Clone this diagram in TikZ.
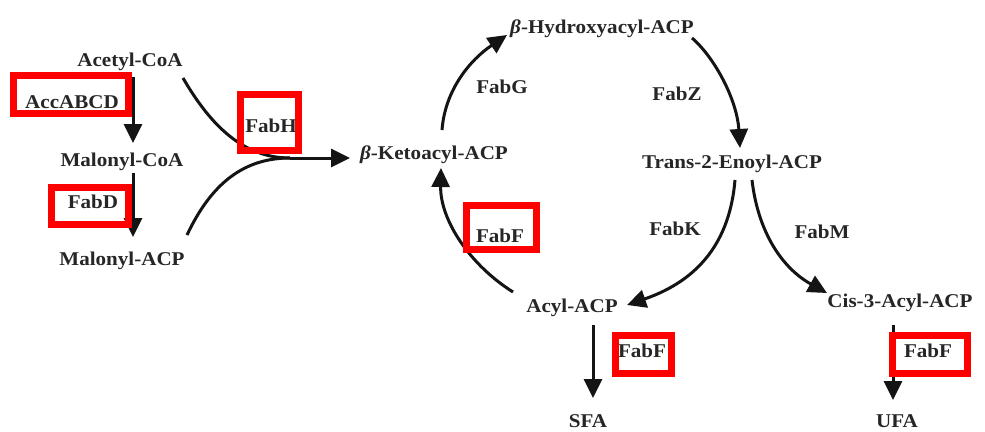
\documentclass[tikz,border=0pt]{standalone}
\usepackage{fontspec}
\setmainfont[FakeStretch=1.08]{Liberation Serif}
\usetikzlibrary{arrows.meta}
\begin{document}
\begin{tikzpicture}[x=1pt,y=-1pt,
 lbl/.style={anchor=base,inner sep=0pt,font=\fontsize{19.5}{20}\selectfont\bfseries,text=black!85},
 flow/.style={line width=3pt,draw=black!92,-{Triangle[length=19pt,width=18pt]}},
 plain/.style={line width=3pt,draw=black!92},
 redbox/.style={draw=red,line width=7pt}]
\useasboundingbox (0,0) rectangle (985,431);
\fill[white] (0,0) rectangle (985,431);
% texts
\node[lbl] (acetyl) at (130,66) {Acetyl-CoA};
\node[lbl] (accabcd) at (72,108) {AccABCD};
\node[lbl] (malcoa) at (122,166) {Malonyl-CoA};
\node[lbl] (fabd) at (93,208) {FabD};
\node[lbl] (malacp) at (122,265) {Malonyl-ACP};
\node[lbl] (fabh) at (271,132) {FabH};
\node[lbl] (keto) at (434,159) {{\itshape β}-Ketoacyl-ACP};
\node[lbl] (hydroxy) at (602,33) {{\itshape β}-Hydroxyacyl-ACP};
\node[lbl] (fabg) at (502,93) {FabG};
\node[lbl] (fabz) at (677,100) {FabZ};
\node[lbl] (trans) at (732,168) {Trans-2-Enoyl-ACP};
\node[lbl] (fabk) at (675,235) {FabK};
\node[lbl] (fabm) at (822,238) {FabM};
\node[lbl] (acyl) at (572,312) {Acyl-ACP};
\node[lbl] (cis) at (900,307) {Cis-3-Acyl-ACP};
\node[lbl] (fabfc) at (500,242) {FabF};
\node[lbl] (fabfs) at (642,357) {FabF};
\node[lbl] (fabfu) at (928,357) {FabF};
\node[lbl] (sfa) at (588,427) {SFA};
\node[lbl] (ufa) at (897,427) {UFA};
% connector end points
\coordinate (acS) at (133,77);
\coordinate (mcN) at (133,143);
\coordinate (mcS) at (133,173);
\coordinate (maN) at (133,237);
\coordinate (acE) at (183,78);
\coordinate (maE) at (187,235);
\coordinate (join) at (290,158);
\coordinate (ketoW) at (350,158);
\coordinate (ketoN) at (442,130);
\coordinate (ketoS) at (441,168);
\coordinate (hydW) at (507,35);
\coordinate (hydE) at (692,38);
\coordinate (transN) at (740,148);
\coordinate (transSW) at (735,180);
\coordinate (transSE) at (752,180);
\coordinate (acylE) at (627,305);
\coordinate (acylNW) at (513,292);
\coordinate (acylS) at (593,325);
\coordinate (sfaN) at (593,398);
\coordinate (cisW) at (827,293);
\coordinate (cisS) at (893,325);
\coordinate (ufaN) at (893,400);
% connectors
\draw[flow] (acS) -- (mcN);
\draw[flow] (mcS) -- (maN);
\draw[plain] (acE) .. controls (212,128) and (245,158) .. (join);
\draw[plain] (maE) .. controls (212,182) and (245,158) .. (join);
\draw[flow] (join) -- (ketoW);
\draw[flow] (ketoN) .. controls (445,90) and (470,60) .. (hydW);
\draw[flow] (hydE) .. controls (715,58) and (737,100) .. (transN);
\draw[flow] (transSW) .. controls (730,240) and (700,280) .. (acylE);
\draw[flow] (transSE) .. controls (758,232) and (782,268) .. (cisW);
\draw[flow] (acylNW) .. controls (470,265) and (440,220) .. (ketoS);
\draw[flow] (acylS) -- (sfaN);
\draw[flow] (cisS) -- (ufaN);
% red boxes
\draw[redbox] (13.5,75.5) rectangle (128.5,113.5);
\draw[redbox] (51.5,187.5) rectangle (128.5,224.5);
\draw[redbox] (240.5,94.5) rectangle (298.5,150.5);
\draw[redbox] (466.5,205.5) rectangle (536.5,249.5);
\draw[redbox] (615.5,335.5) rectangle (671.5,373.5);
\draw[redbox] (892.5,335.5) rectangle (967.5,373.5);
\end{tikzpicture}
\end{document}
